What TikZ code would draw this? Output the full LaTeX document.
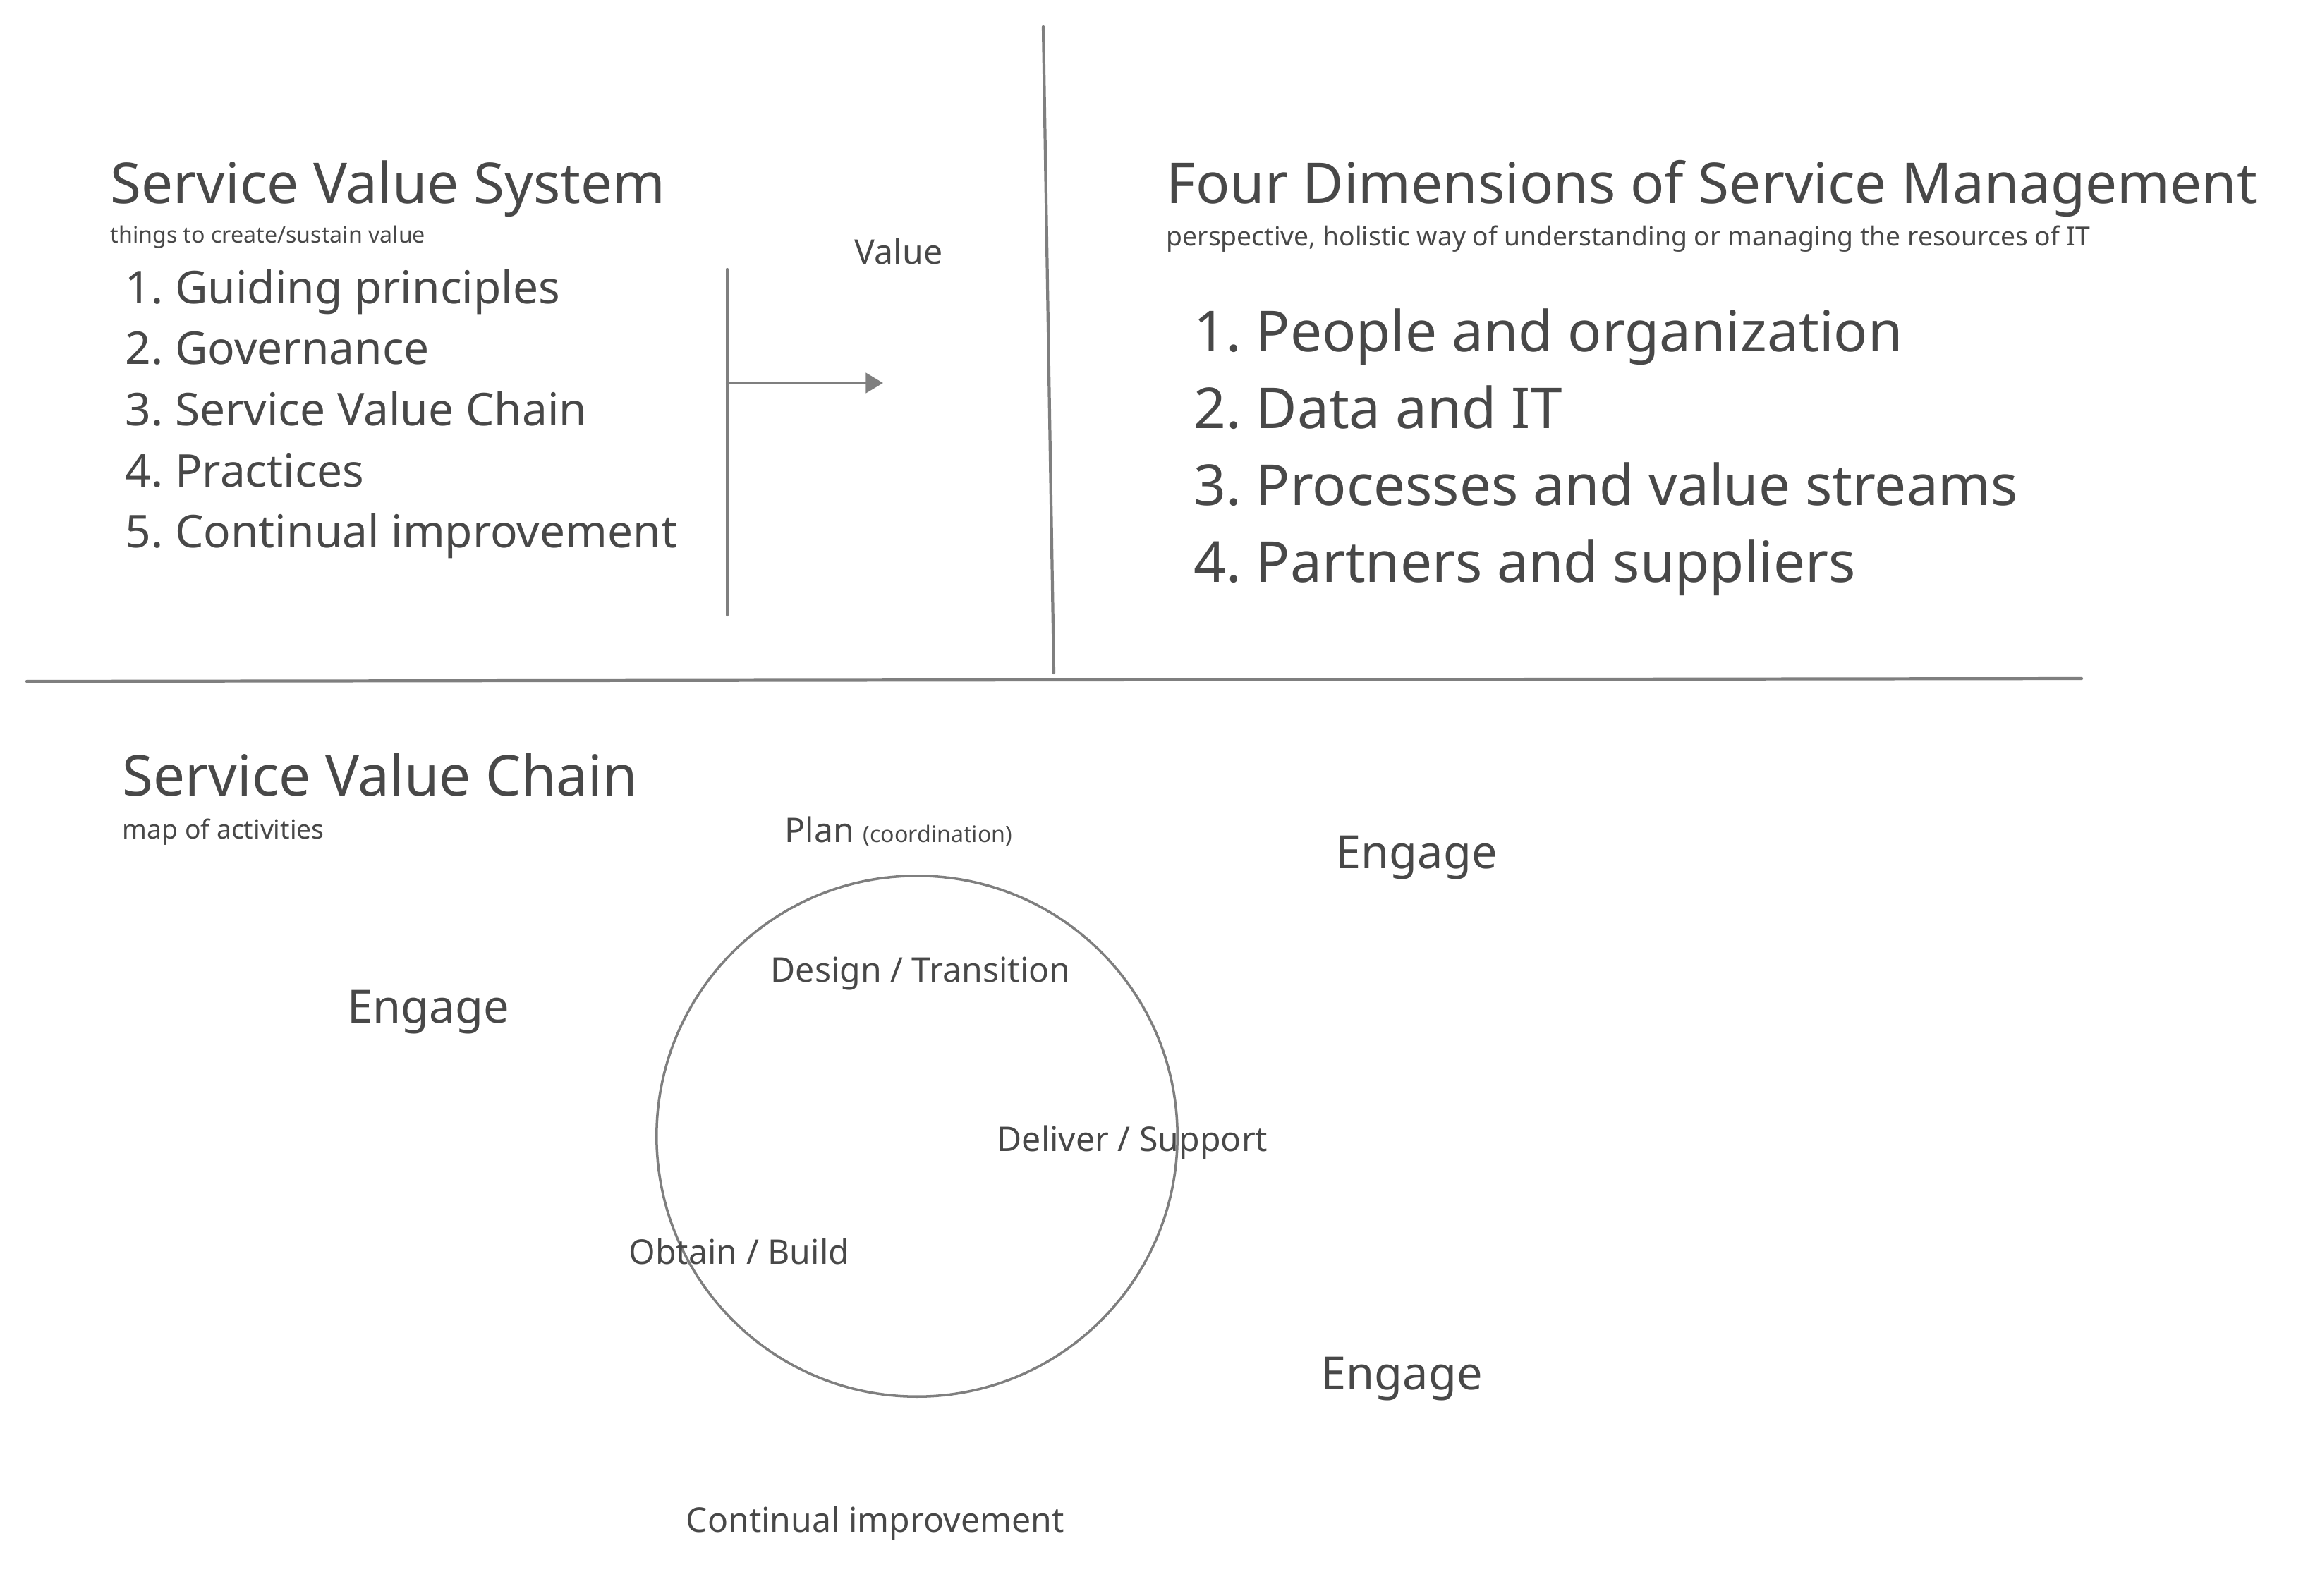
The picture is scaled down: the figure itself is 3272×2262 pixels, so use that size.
\documentclass[tikz,border=0pt]{standalone}
\usepackage{fontspec}
\setmainfont{Noto Sans}
\usetikzlibrary{arrows.meta,positioning}

\definecolor{inkgray}{HTML}{484848}
\definecolor{rulegray}{HTML}{7F7F7F}
\newcommand{\sizept}[1]{\fontsize{#1}{#1}\selectfont}
\frenchspacing

\tikzset{
  txt/.style={text=inkgray, inner sep=0pt, anchor=base west},
  head/.style={txt, font=\sizept{22.75}},
  bigitem/.style={txt, font=\sizept{22.75}},
  item/.style={txt, font=\sizept{18.2}},
  engage/.style={txt, font=\sizept{18.45}},
  midtxt/.style={txt, font=\sizept{13.7}},
  note/.style={txt, font=\sizept{10.6}},
  tiny/.style={txt, font=\sizept{9.15}},
  rule/.style={draw=rulegray, line width=1.2pt, line cap=round},
}

\begin{document}
\begin{tikzpicture}[x=0.01cm, y=-0.01cm]
\useasboundingbox (0,0) rectangle (3272,2262);

% Service Value System
\node[head] (svs) at (156,288) {Service Value System};
\node[tiny] (svsnote) at (156,344) {things to create/sustain value};
\foreach \t [count=\i] in {Guiding principles, Governance, Service Value Chain, Practices, Continual improvement}
  \node[item] (svs\i) at (177,{430+86.7*(\i-1)}) {\i. \t};

\coordinate (btop) at (1031,382);
\coordinate (bbot) at (1031,872);
\coordinate (bmid) at (1031,543);
\coordinate (valueend) at (1252,543);
\draw[rule] (btop) -- (bbot);
\draw[rule, -{Triangle[length=7pt,width=8pt]}] (bmid) -- (valueend);
\node[midtxt, anchor=base] (value) at (1274,374) {Value};

% Four Dimensions
\node[head] (fdsm) at (1653,288) {Four Dimensions of Service Management};
\node[note] (fdsmnote) at (1653,348) {perspective, holistic way of understanding or managing the resources of IT};
\foreach \t [count=\i] in {People and organization, Data and IT, Processes and value streams, Partners and suppliers}
  \node[bigitem] (fdsm\i) at (1692,{498+109.3*(\i-1)}) {\i. \t};

% dividers
\coordinate (vtop) at (1479,38);
\coordinate (vbot) at (1494,954);
\coordinate (hleft) at (38,966);
\coordinate (hright) at (2951,962);
\draw[rule] (vtop) -- (vbot);
\draw[rule] (hleft) -- (hright);

% Service Value Chain
\node[head] (svc) at (173,1128) {Service Value Chain};
\node[note] (svcnote) at (173,1189) {map of activities};
\node[midtxt] (plan) at (1112,1194) {Plan {\sizept{9.15}(coordination)}};
\node[engage] (engagetop) at (1893,1231) {Engage};
\node[engage] (engageleft) at (492,1450) {Engage};
\node[engage] (engagebot) at (1872,1970) {Engage};

\node[circle, draw=rulegray, line width=1pt, minimum size=7.38cm, inner sep=0pt] (chain) at (1300,1611) {};
\node[midtxt, anchor=base] (design) at (1305,1392) {Design / Transition};
\node[midtxt] (deliver) at (1413,1632) {Deliver / Support};
\node[midtxt] (obtain) at (891,1792) {Obtain / Build};
\node[midtxt] (improve) at (972,2172) {Continual improvement};

\end{tikzpicture}
\end{document}
